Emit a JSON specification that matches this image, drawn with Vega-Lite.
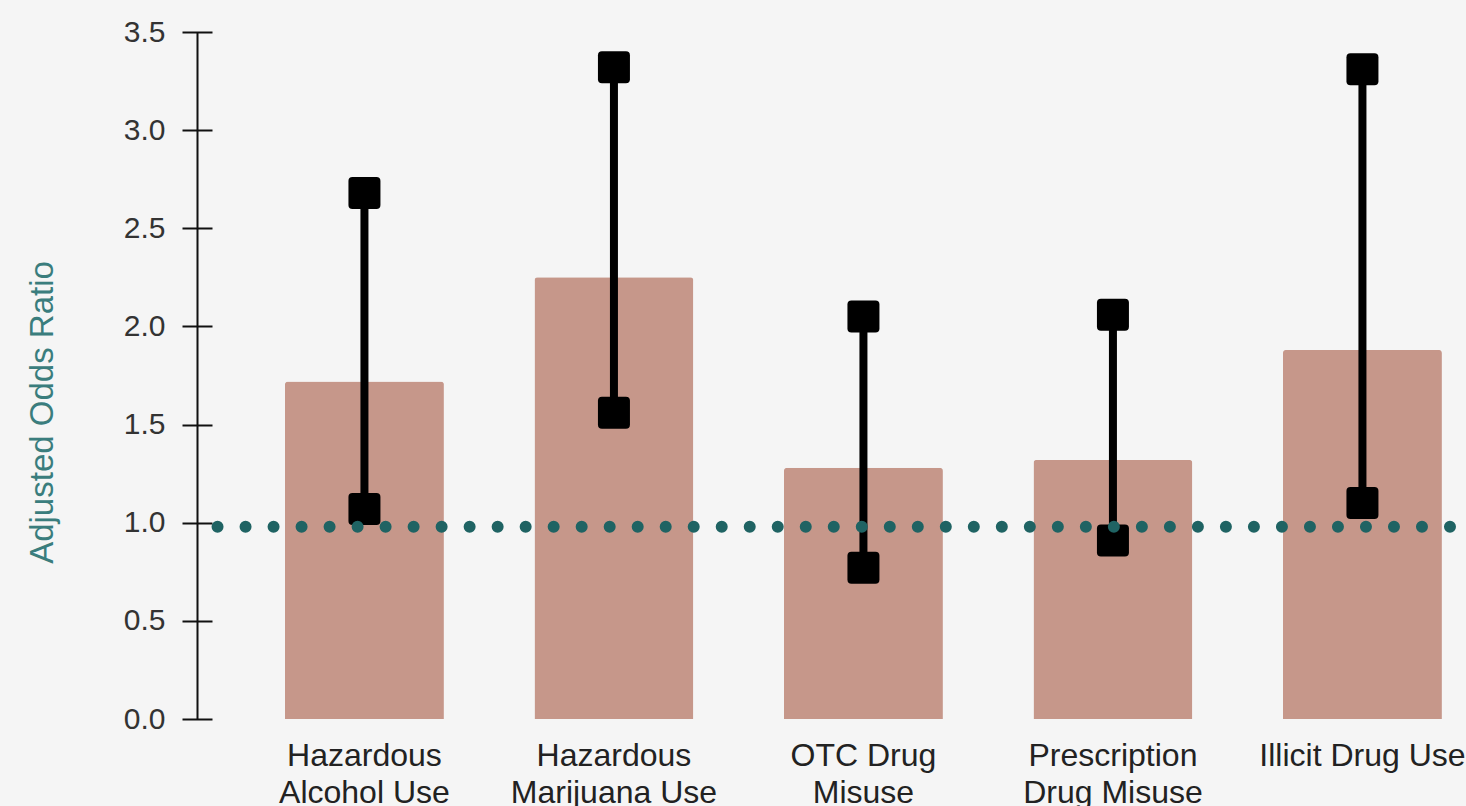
{
  "$schema": "https://vega.github.io/schema/vega-lite/v6.json",
  "description": "Adjusted odds ratios with confidence intervals",
  "width": 1269,
  "height": 687,
  "autosize": "none",
  "padding": {"left": 197, "top": 32, "right": 0, "bottom": 87},
  "background": "#f5f5f5",
  "config": {
    "view": {"stroke": null},
    "font": "Liberation Sans"
  },
  "data": {
    "values": [
      {"measure": "Hazardous\nAlcohol Use", "aor": 1.72, "low": 1.07, "high": 2.68},
      {"measure": "Hazardous\nMarijuana Use", "aor": 2.25, "low": 1.56, "high": 3.32},
      {"measure": "OTC Drug\nMisuse", "aor": 1.28, "low": 0.77, "high": 2.05},
      {"measure": "Prescription\nDrug Misuse", "aor": 1.32, "low": 0.91, "high": 2.06},
      {"measure": "Illicit Drug Use", "aor": 1.88, "low": 1.1, "high": 3.31}
    ]
  },
  "encoding": {
    "x": {
      "field": "measure",
      "type": "nominal",
      "sort": null,
      "title": null,
      "scale": {"paddingInner": 0.363, "paddingOuter": 0.2246, "align": 0.785},
      "axis": {
        "domain": false,
        "ticks": false,
        "tickSize": 0,
        "labelAngle": 0,
        "labelPadding": 21,
        "labelFontSize": 32,
        "labelColor": "#222222",
        "labelLineHeight": 37,
        "labelLimit": 0,
        "labelOverlap": false,
        "labelExpr": "split(datum.value, '\\n')"
      }
    }
  },
  "layer": [
    {
      "mark": {"type": "bar", "color": "#c6978a", "cornerRadiusTopLeft": 3, "cornerRadiusTopRight": 3},
      "encoding": {
        "y": {
          "field": "aor",
          "type": "quantitative",
          "title": "Adjusted Odds Ratio",
          "scale": {"domain": [0, 3.5], "nice": false},
          "axis": {
            "orient": "left",
            "values": [0, 0.5, 1, 1.5, 2, 2.5, 3, 3.5],
            "format": ".1f",
            "grid": false,
            "domain": false,
            "offset": -15,
            "tickColor": "#111111",
            "tickWidth": 2,
            "tickSize": 30,
            "labelPadding": 17,
            "labelFontSize": 30,
            "labelColor": "#333333",
            "titleFontSize": 33,
            "titleFontWeight": "normal",
            "titleColor": "#3a7d7d",
            "titlePadding": 64,
            "titleY": 380
          }
        }
      }
    },
    {
      "mark": {"type": "rule", "color": "#000000", "strokeWidth": 8},
      "encoding": {
        "y": {"field": "low", "type": "quantitative"},
        "y2": {"field": "high"}
      }
    },
    {
      "mark": {
        "type": "point",
        "shape": "M-0.75,-1L0.75,-1Q1,-1 1,-0.75L1,0.75Q1,1 0.75,1L-0.75,1Q-1,1 -1,0.75L-1,-0.75Q-1,-1 -0.75,-1Z",
        "size": 1024,
        "filled": true,
        "color": "#000000",
        "opacity": 1
      },
      "encoding": {
        "y": {"field": "low", "type": "quantitative"}
      }
    },
    {
      "mark": {
        "type": "point",
        "shape": "M-0.75,-1L0.75,-1Q1,-1 1,-0.75L1,0.75Q1,1 0.75,1L-0.75,1Q-1,1 -1,0.75L-1,-0.75Q-1,-1 -0.75,-1Z",
        "size": 1024,
        "filled": true,
        "color": "#000000",
        "opacity": 1
      },
      "encoding": {
        "y": {"field": "high", "type": "quantitative"}
      }
    },
    {
      "data": {"values": [{"reference": 1}]},
      "mark": {
        "type": "rule",
        "color": "#1f6363",
        "strokeWidth": 12,
        "strokeCap": "round",
        "strokeDash": [0.01, 28],
        "strokeDashOffset": 12,
        "yOffset": 4
      },
      "encoding": {
        "x": null,
        "y": {
          "field": "reference",
          "type": "quantitative",
          "axis": {
            "orient": "left",
            "grid": false,
            "domain": true,
            "domainColor": "#111111",
            "domainWidth": 2,
            "ticks": false,
            "labels": false,
            "title": null
          }
        }
      }
    }
  ],
  "resolve": {"axis": {"y": "independent"}}
}
